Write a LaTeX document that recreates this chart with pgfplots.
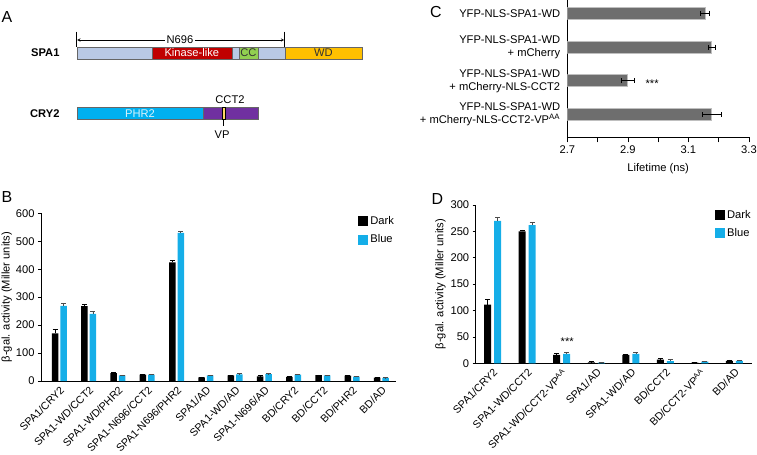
\documentclass[border=0pt]{standalone}
\usepackage{pgfplots}
\pgfplotsset{compat=1.18}
\usepackage{fontspec}
\setmainfont{Liberation Sans}
\definecolor{bblue}{HTML}{15AEE8}
\definecolor{cgray}{HTML}{6E6E6E}
\definecolor{spablue}{HTML}{B9C9E5}
\definecolor{kinred}{HTML}{C00000}
\definecolor{ccgreen}{HTML}{92D050}
\definecolor{wdorange}{HTML}{FFC000}
\definecolor{phrcyan}{HTML}{00B0F0}
\definecolor{cctpurple}{HTML}{7030A0}
\definecolor{vpyellow}{HTML}{FFD966}
\newcommand{\fs}{\fontsize{11.2}{13}\selectfont}
\newcommand{\fx}{\fontsize{10.7}{12.5}\selectfont}
\newcommand{\fl}{\fontsize{16}{18}\selectfont}
\pgfplotsset{
  common/.style={
    scale only axis,
    axis x line*=bottom, axis y line*=left,
    axis line style={line width=0.7bp},
    tick style={line width=0.7bp, black},
    tick align=outside,
    font=\fs,
    /pgf/number format/assume math mode=true,
    tick label style={font=\fs},
    label style={font=\fs},
  },
  sqlegend/.style={
    legend image code/.code={\path[##1,draw=none] (0bp,-5bp) rectangle (10bp,5bp);},
    legend style={draw=none, fill=none, font=\fs, row sep=5bp, anchor=north west,
      /tikz/every even column/.append style={column sep=2bp}},
    legend cell align=left,
  },
}
\begin{document}
\begin{tikzpicture}
\useasboundingbox (0bp,0bp) rectangle (757bp,-455bp);

% ---------- Panel A (schematic) ----------
\begin{scope}[x=1bp,y=-1bp]
\node[font=\fl] at (7,17.5) {A};
\node[font=\fl] at (7,197) {B};
\node[font=\fl] at (436,12) {C};
\node[font=\fl] at (437.5,199) {D};
\node[font=\fs\bfseries, anchor=east] at (63,53) {SPA1};
\node[font=\fs\bfseries, anchor=east] at (63,113.5) {CRY2};
% SPA1
\draw[fill=spablue, draw=black!60, line width=0.4bp] (76.7,46.7) rectangle (284.7,59.3);
\draw[fill=kinred, draw=black!60, line width=0.4bp] (151.7,46.7) rectangle (232,59.3);
\draw[fill=ccgreen, draw=black!60, line width=0.4bp] (239,46.7) rectangle (258,59.3);
\draw[fill=wdorange, draw=black!60, line width=0.4bp] (284.7,46.7) rectangle (362.3,59.3);
\node[font=\fs, text=white] at (191.8,53) {Kinase-like};
\node[font=\fs, text=black!80] at (248.5,53) {CC};
\node[font=\fs, text=black!80] at (323.5,53) {WD};
\draw[line width=0.5bp] (76.7,31.7) -- (76.7,46.7);
\draw[line width=0.5bp] (284.7,31.7) -- (284.7,46.7);
\draw[<->, >=stealth, line width=0.5bp] (77.2,40) -- (284.2,40);
\node[font=\fs, fill=white, inner sep=1.5bp] at (180,40) {N696};
% CRY2
\draw[fill=phrcyan, draw=black!60, line width=0.4bp] (76.7,107.3) rectangle (203.3,119);
\draw[fill=cctpurple, draw=black!60, line width=0.4bp] (203.3,107.3) rectangle (257.7,119);
\draw[fill=vpyellow, draw=black, line width=0.4bp] (221.7,107.3) rectangle (225,119);
\node[font=\fs, text=white!85!phrcyan] at (140,113.2) {PHR2};
\node[font=\fs] at (230,100) {CCT2};
\draw[line width=0.5bp] (223.3,119) -- (223.3,126);
\node[font=\fs] at (222,135) {VP};
\end{scope}

% ---------- Panel B ----------
\begin{axis}[common,
  at={(41bp,-381bp)}, anchor=south west,
  width=355bp, height=167.7bp,
  xmin=-0.63, xmax=11.5, ymin=0, ymax=600,
  ytick={0,100,...,600}, major tick length=3bp,
  xtick={0,...,11},
  xticklabels={SPA1/CRY2, SPA1-WD/CCT2, SPA1-WD/PHR2, SPA1-N696/CCT2, SPA1-N696/PHR2, SPA1/AD, SPA1-WD/AD, SPA1-N696/AD, BD/CRY2, BD/CCT2, BD/PHR2, BD/AD},
  x tick label style={rotate=45, anchor=north east, inner sep=1bp, font=\fx},
  major x tick style={draw=none},
  ylabel={β-gal. activity (Miller units)},
  ylabel style={yshift=-3bp},
  ybar=2bp, bar width=6.5bp,
  sqlegend,
  legend style={at={(0.885,1.008)}},
]
\addplot[fill=black, draw=none,
  error bars/.cd, y dir=plus, y explicit,
  error bar style={draw=black, line width=0.6bp},
  error mark options={rotate=90, draw=black, mark size=2.5bp, line width=0.6bp}]
 coordinates {(0,170) +- (0,15) (1,268) +- (0,6) (2,28) +- (0,2) (3,23) +- (0,1.5)
  (4,424) +- (0,8) (5,13) +- (0,2) (6,20) +- (0,2) (7,17) +- (0,2)
  (8,15) +- (0,1.5) (9,21) +- (0,1) (10,19) +- (0,2) (11,12) +- (0,1)};
\addplot[fill=bblue, draw=none,
  error bars/.cd, y dir=plus, y explicit,
  error bar style={draw=black!70, line width=0.6bp},
  error mark options={rotate=90, draw=black!70, mark size=2.5bp, line width=0.6bp}]
 coordinates {(0,269) +- (0,8) (1,240) +- (0,11) (2,20) +- (0,1.5) (3,23) +- (0,1.5)
  (4,530) +- (0,5) (5,20) +- (0,2) (6,24) +- (0,2) (7,25) +- (0,1.5)
  (8,23) +- (0,1.5) (9,20) +- (0,1.5) (10,16) +- (0,1) (11,11) +- (0,1)};
\legend{Dark, Blue}
\end{axis}

% ---------- Panel C ----------
\begin{axis}[common,
  at={(567.3bp,-137.3bp)}, anchor=south west,
  width=181.7bp, height=137.3bp,
  xmin=2.7, xmax=3.3, ymin=0.33, ymax=4.39,
  xtick={2.7,2.9,3.1,3.3}, minor xtick={2.8,3.0,3.2},
  major tick length=5bp, minor tick length=5bp,
  xticklabel style={/pgf/number format/.cd, fixed, fixed zerofill, precision=1},
  ytick={1,2,3,4},
  yticklabels={{YFP-NLS-SPA1-WD\\+ mCherry-NLS-CCT2-VP\textsuperscript{AA}},
    {YFP-NLS-SPA1-WD\\+ mCherry-NLS-CCT2},
    {YFP-NLS-SPA1-WD\\+ mCherry},
    {YFP-NLS-SPA1-WD}},
  y tick label style={align=right, font=\fontsize{11.2}{13}\selectfont, inner sep=2bp},
  major y tick style={draw=none},
  xlabel={Lifetime (ns)},
  xlabel style={yshift=-3bp},
  xbar, bar width=12bp,
  clip=true,
]
\addplot[fill=cgray, draw=black!25, line width=0.8bp,
  error bars/.cd, x dir=both, x explicit,
  error bar style={draw=black, line width=0.7bp},
  error mark options={rotate=90, draw=black, mark size=2.5bp, line width=0.7bp}]
 coordinates {(3.177,1) +- (0.031,0) (2.90,2) +- (0.022,0) (3.177,3) +- (0.012,0) (3.155,4) +- (0.015,0)};
\node[font=\fs] at (axis cs:2.98,2) [yshift=-2.5bp] {***};
\end{axis}

% ---------- Panel D ----------
\begin{axis}[common,
  at={(475.7bp,-363.3bp)}, anchor=south west,
  width=276bp, height=158.3bp,
  xmin=-0.49, xmax=7.5, ymin=0, ymax=300,
  ytick={0,50,...,300}, major tick length=3bp,
  xtick={0,...,7},
  xticklabels={SPA1/CRY2, SPA1-WD/CCT2, SPA1-WD/CCT2-VP\textsuperscript{AA}, SPA1/AD, SPA1-WD/AD, BD/CCT2, BD/CCT2-VP\textsuperscript{AA}, BD/AD},
  x tick label style={rotate=45, anchor=north east, inner sep=1bp, font=\fx},
  major x tick style={draw=none},
  ylabel={β-gal. activity (Miller units)},
  ylabel style={yshift=-2bp},
  ybar=3bp, bar width=7bp,
  sqlegend,
  legend style={at={(0.856,0.994)}},
]
\addplot[fill=black, draw=none,
  error bars/.cd, y dir=plus, y explicit,
  error bar style={draw=black, line width=0.6bp},
  error mark options={rotate=90, draw=black, mark size=2.5bp, line width=0.6bp}]
 coordinates {(0,111) +- (0,10) (1,250) +- (0,3) (2,16) +- (0,3) (3,2) +- (0,1)
  (4,16) +- (0,1.5) (5,7) +- (0,2.5) (6,1.5) +- (0,0.5) (7,4.5) +- (0,2)};
\addplot[fill=bblue, draw=none,
  error bars/.cd, y dir=plus, y explicit,
  error bar style={draw=black!70, line width=0.6bp},
  error mark options={rotate=90, draw=black!70, mark size=2.5bp, line width=0.6bp}]
 coordinates {(0,270) +- (0,6) (1,262) +- (0,6) (2,18) +- (0,2) (3,1.5) +- (0,0.5)
  (4,18) +- (0,3) (5,4) +- (0,3) (6,3) +- (0,0.5) (7,4.5) +- (0,1.5)};
\legend{Dark, Blue}
\node[font=\fs] at (axis cs:2.16,41) {***};
\end{axis}
\end{tikzpicture}
\end{document}
